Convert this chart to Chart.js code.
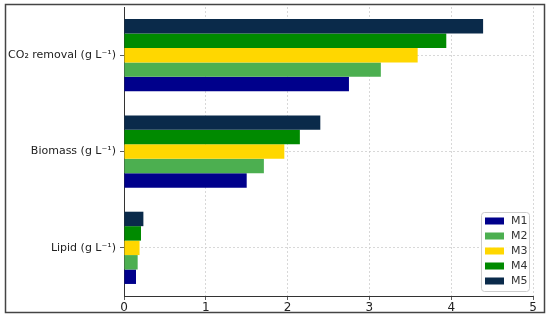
<!DOCTYPE html>
<html>
<head>
<meta charset="utf-8">
<script src="https://cdn.jsdelivr.net/npm/chart.js@4.4.1/dist/chart.umd.min.js"></script>
<style>
  html, body { margin: 0; padding: 0; background: #fff; }
  #wrap { width: 550px; height: 320px; }
</style>
</head>
<body>
<div id="wrap"><canvas id="chart" width="550" height="320"></canvas></div>
<script>
const categories = ["CO\u2082 removal (g L\u207b\u00b9)", "Biomass (g L\u207b\u00b9)", "Lipid (g L\u207b\u00b9)"];
const seriesNames = ["M1", "M2", "M3", "M4", "M5"];
const m1 = [2.75, 1.50, 0.147];
const m2 = [3.14, 1.71, 0.167];
const m3 = [3.59, 1.96, 0.19];
const m4 = [3.94, 2.15, 0.208];
const m5 = [4.39, 2.40, 0.237];
const xTicks = [0, 1, 2, 3, 4, 5];

const colors = ["#00008b", "#4caf50", "#ffd700", "#008a00", "#0a2a4a"];
const values = [m1, m2, m3, m4, m5];

// M5 goes first so it sits on top of each group, like the original
const datasets = seriesNames.map((name, i) => ({
  label: name,
  data: values[i],
  backgroundColor: colors[i],
  borderWidth: 0
})).reverse();

const framePlugin = {
  id: "frame",
  afterDraw(chart) {
    const ctx = chart.ctx;
    ctx.save();
    ctx.strokeStyle = "#444";
    ctx.lineWidth = 1.5;
    ctx.strokeRect(5.5, 4.5, 539, 308);
    ctx.restore();
  }
};

const boxLegend = {
  id: "boxLegend",
  afterDraw(chart) {
    const ctx = chart.ctx;
    const area = chart.chartArea;
    const items = chart.data.datasets.slice().reverse();
    const w = 48, rowH = 15;
    const h = items.length * rowH + 4;
    const x = area.right - 4 - w;
    const y = area.bottom - 5 - h;
    ctx.save();
    ctx.fillStyle = "rgba(255,255,255,0.85)";
    ctx.strokeStyle = "#cccccc";
    ctx.lineWidth = 1;
    ctx.beginPath();
    ctx.roundRect(x + 0.5, y + 0.5, w, h, 3);
    ctx.fill();
    ctx.stroke();
    ctx.font = "11px 'DejaVu Sans'";
    ctx.textBaseline = "middle";
    items.forEach((ds, i) => {
      const cy = y + 9 + i * rowH;
      ctx.fillStyle = ds.backgroundColor;
      ctx.fillRect(x + 4, cy - 3.5, 19, 7);
      ctx.fillStyle = "#333";
      ctx.fillText(ds.label, x + 30, cy + 0.5);
    });
    ctx.restore();
  }
};

const gridStyle = {
  color: "#cfcfcf",
  lineWidth: 0.8,
  drawTicks: true,
  tickLength: 4,
  tickColor: "#333",
  tickBorderDash: []
};

new Chart(document.getElementById("chart"), {
  type: "bar",
  data: { labels: categories, datasets },
  options: {
    indexAxis: "y",
    responsive: false,
    animation: false,
    layout: { padding: { top: 7, right: 17, left: 0, bottom: 0 } },
    datasets: { bar: { categoryPercentage: 0.75, barPercentage: 1.0 } },
    plugins: { legend: { display: false }, tooltip: { enabled: false } },
    scales: {
      x: {
        min: 0,
        max: 5,
        z: 1,
        afterBuildTicks: scale => { scale.ticks = xTicks.map(v => ({ value: v })); },
        afterFit: scale => { scale.height = 24; },
        grid: gridStyle,
        border: { display: true, color: "#333", width: 1, dash: [2, 2] },
        ticks: { color: "#222", font: { family: "DejaVu Sans", size: 12 }, padding: 1 }
      },
      y: {
        z: 1,
        afterFit: scale => {
          scale.width = 124;
          scale.paddingTop = 0;
          scale.paddingBottom = 0;
        },
        grid: Object.assign({ offset: false }, gridStyle),
        border: { display: true, color: "#333", width: 1, dash: [2, 2] },
        ticks: { color: "#222", font: { family: "DejaVu Sans", size: 11 }, padding: 4 }
      }
    }
  },
  plugins: [framePlugin, boxLegend]
});
</script>
</body>
</html>
